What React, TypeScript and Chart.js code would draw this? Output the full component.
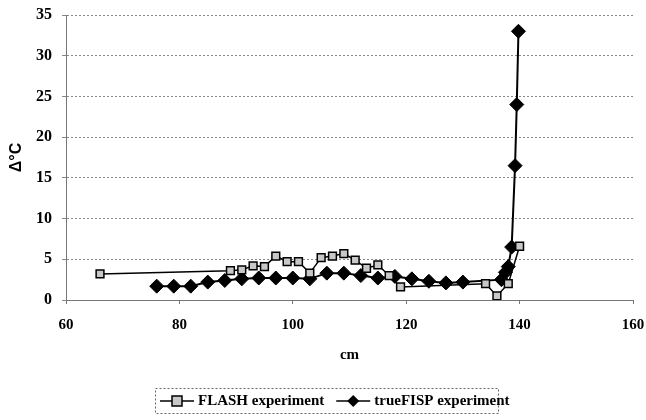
import React, { useEffect, useRef } from "react";
import { Chart, registerables } from "chart.js";

Chart.register(...registerables);

const flashX = [66, 89, 91, 93, 95, 97, 99, 101, 103, 105, 107, 109, 111, 113, 115, 117, 119, 134, 136, 138, 140];
const flashY = [3.2, 3.6, 3.7, 4.2, 4.1, 5.4, 4.7, 4.7, 3.3, 5.2, 5.4, 5.7, 4.9, 3.9, 4.3, 3.0, 1.6, 2.0, 0.5, 2.0, 6.6];

const fispX = [76, 79, 82, 85, 88, 91, 94, 97, 100, 103, 106, 109, 112, 115, 118, 121, 124, 127, 130, 136.8, 137.5, 138, 138.6, 139.2, 139.5, 139.8];
const fispY = [1.7, 1.7, 1.7, 2.2, 2.4, 2.6, 2.7, 2.7, 2.7, 2.6, 3.3, 3.3, 3.0, 2.7, 2.9, 2.6, 2.3, 2.1, 2.2, 2.5, 3.4, 4.1, 6.5, 16.5, 24.0, 33.0];

const seriesNames = ["FLASH experiment", "trueFISP experiment"];
const xTicks = { min: 60, max: 160, step: 20 };
const yTicks = { min: 0, max: 35, step: 5 };

const SERIF = "'Liberation Serif', 'Times New Roman', serif";
const SANS = "'Liberation Sans', Arial, sans-serif";

const legendPlugin = {
  id: "boxLegend",
  afterDraw(chart: any) {
    const ctx = chart.ctx;
    const ds = chart.data.datasets;
    ctx.save();
    const bx = 155, by = 388, bw = 343, bh = 25;
    ctx.strokeStyle = "#666";
    ctx.lineWidth = 1;
    ctx.setLineDash([2, 2]);
    ctx.strokeRect(bx + 0.5, by + 0.5, bw, bh);
    ctx.setLineDash([]);
    const cy = by + bh / 2 + 0.5;
    ctx.font = "bold 15px " + SERIF;
    ctx.textBaseline = "middle";
    ctx.fillStyle = "#000";
    let x = bx + 5;
    ds.forEach((d: any, i: number) => {
      ctx.strokeStyle = "#000";
      ctx.lineWidth = 1.5;
      ctx.beginPath();
      ctx.moveTo(x, cy);
      ctx.lineTo(x + 34, cy);
      ctx.stroke();
      const mx = x + 17;
      if (i === 0) {
        ctx.fillStyle = "#c8c8c8";
        ctx.fillRect(mx - 5, cy - 5, 10, 10);
        ctx.lineWidth = 1.5;
        ctx.strokeRect(mx - 5, cy - 5, 10, 10);
      } else {
        ctx.fillStyle = "#000";
        ctx.beginPath();
        ctx.moveTo(mx, cy - 6);
        ctx.lineTo(mx + 6, cy);
        ctx.lineTo(mx, cy + 6);
        ctx.lineTo(mx - 6, cy);
        ctx.closePath();
        ctx.fill();
      }
      ctx.fillStyle = "#000";
      ctx.fillText(d.label, x + 38, cy);
      x += 38 + ctx.measureText(d.label).width + 12;
    });
    ctx.restore();
  },
};

export default function App() {
  const ref = useRef<HTMLCanvasElement | null>(null);
  useEffect(() => {
    if (!ref.current) return;
    const chart = new Chart(ref.current, {
      type: "line",
      data: {
        datasets: [
          {
            label: seriesNames[0],
            data: flashX.map((x, i) => ({ x, y: flashY[i] })),
            borderColor: "#000",
            borderWidth: 1.5,
            pointStyle: "rect",
            pointRadius: 5.5,
            pointBackgroundColor: "#c8c8c8",
            pointBorderColor: "#000",
            pointBorderWidth: 1.5,
            tension: 0,
          },
          {
            label: seriesNames[1],
            data: fispX.map((x, i) => ({ x, y: fispY[i] })),
            borderColor: "#000",
            borderWidth: 2,
            pointStyle: "rectRot",
            pointRadius: 7,
            pointBackgroundColor: "#000",
            pointBorderColor: "#000",
            pointBorderWidth: 1,
            tension: 0,
          },
        ],
      },
      options: {
        animation: false,
        responsive: false,
        layout: { padding: { left: 0, right: 13, top: 15, bottom: 50 } },
        plugins: { legend: { display: false }, tooltip: { enabled: false } },
        scales: {
          x: {
            type: "linear",
            min: xTicks.min,
            max: xTicks.max,
            ticks: { stepSize: xTicks.step, color: "#000", font: { family: SERIF, size: 15, weight: "bold" }, padding: 12 },
            grid: { drawOnChartArea: false, drawTicks: true, tickLength: 4, color: "#777" },
            border: { color: "#777", dash: [2, 2] },
            title: { display: true, text: "cm", color: "#000", font: { family: SERIF, size: 15, weight: "bold" }, padding: { top: 0, bottom: 6 } },
            afterFit: (s: any) => { s.height = 70; s.paddingLeft = 0; s.paddingRight = 0; },
          },
          y: {
            min: yTicks.min,
            max: yTicks.max,
            ticks: { stepSize: yTicks.step, color: "#000", font: { family: SERIF, size: 16, weight: "bold" }, padding: 10 },
            grid: { color: "#888", tickLength: 4, lineWidth: 1 },
            border: { color: "#777", dash: [2, 2] },
            title: { display: true, text: "Δ°C", color: "#000", font: { family: SANS, size: 16, weight: "bold" }, padding: { top: 7, bottom: 0 } },
            afterFit: (s: any) => { s.width = 66; s.paddingTop = 0; s.paddingBottom = 0; },
          },
        },
      },
      plugins: [legendPlugin],
    } as any);
    return () => chart.destroy();
  }, []);
  return (
    <div style={{ position: "absolute", left: 0, top: 0, width: 646, height: 420, background: "#fff" }}>
      <canvas ref={ref} width={646} height={420} />
    </div>
  );
}
